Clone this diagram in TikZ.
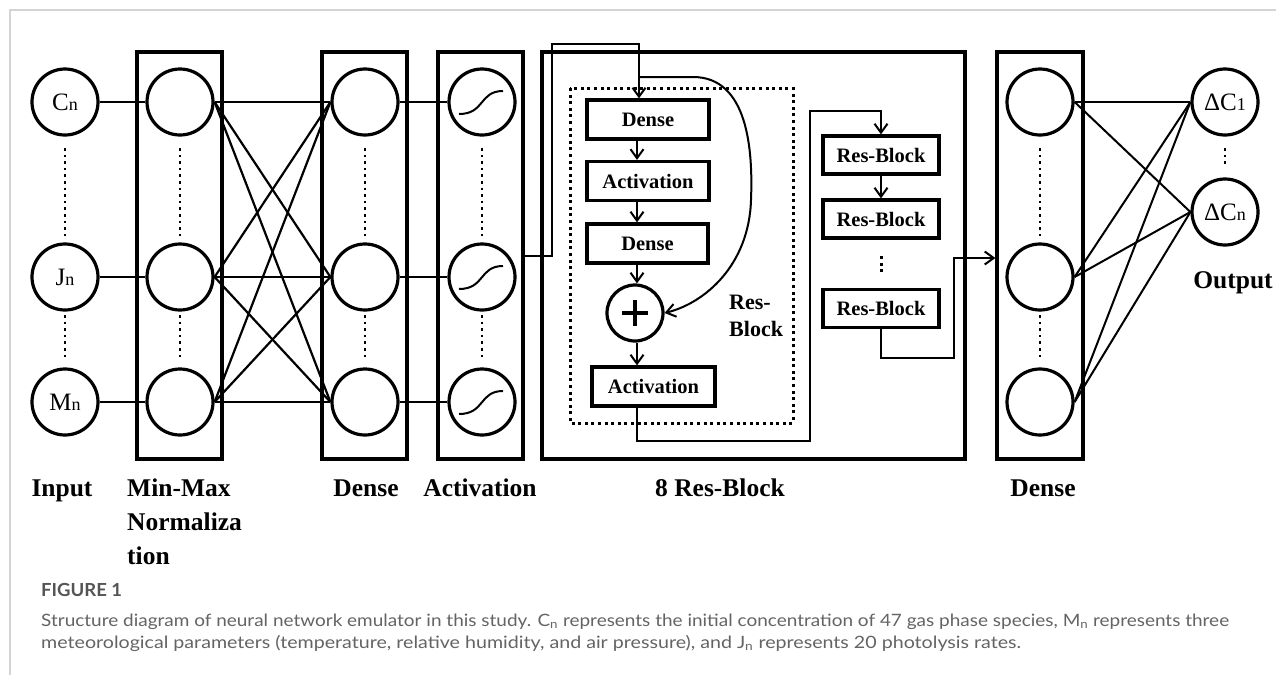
\documentclass[tikz,border=0pt]{standalone}
\usepackage{fontspec}
\setmainfont{Liberation Serif}
\newfontfamily\capfont{Lato}
\usetikzlibrary{arrows.meta}
\definecolor{capgray}{RGB}{100,100,100}
\definecolor{figgray}{RGB}{85,85,85}
\definecolor{framegray}{RGB}{212,212,212}
\newcommand{\nlab}[2]{{\fontsize{25}{25}\selectfont #1}{\fontsize{18}{18}\selectfont #2}}
\begin{document}
\begin{tikzpicture}[x=1pt,y=-1pt,
  neuron/.style={circle,draw,line width=3.2pt,minimum size=66pt,inner sep=0pt},
  colbox/.style={draw,line width=3.2pt,minimum width=85pt,minimum height=407pt,inner sep=0pt},
  conn/.style={line width=2.2pt},
  dotline/.style={line width=2.6pt,dash pattern=on 2.6pt off 4pt},
  ibox/.style={draw,line width=3.2pt,minimum height=39pt,inner sep=0pt,font=\fontsize{20.5}{24}\selectfont\bfseries},
  arr/.style={line width=2pt,-{Straight Barb[length=9pt,width=13pt]}},
  lab/.style={font=\fontsize{25.5}{30}\selectfont\bfseries,inner sep=0pt},
  sig/.style={line width=2pt},
]
\useasboundingbox (0,0) rectangle (1276,675);
\fill[white] (0,0) rectangle (1276,675);
\draw[framegray,line width=1.3pt] (10,675) -- (10,10) -- (1276,10);

% column boxes
\node[colbox] (mmbox) at (179.5,255.5) {};
\node[colbox] (dbox) at (364.5,255.5) {};
\node[colbox] (abox) at (480.5,255.5) {};
\node[draw,line width=3.2pt,minimum width=423pt,minimum height=407pt,inner sep=0pt] (rbox) at (753.5,255.5) {};
\node[colbox,minimum width=86pt] (rdbox) at (1040,255.5) {};

% input neurons
\node[neuron] (in1) at (65,102) {\nlab{C}{n}};
\node[neuron] (in2) at (65,277) {\nlab{J}{n}};
\node[neuron] (in3) at (65,402) {\nlab{M}{n}};
% min-max
\node[neuron] (mm1) at (180,102) {};
\node[neuron] (mm2) at (180,277) {};
\node[neuron] (mm3) at (180,402) {};
% dense
\node[neuron] (d1) at (365,102) {};
\node[neuron] (d2) at (365,277) {};
\node[neuron] (d3) at (365,402) {};
% activation
\node[neuron] (a1) at (482,102) {};
\node[neuron] (a2) at (482,277) {};
\node[neuron] (a3) at (482,402) {};
% right dense
\node[neuron] (rd1) at (1040,102) {};
\node[neuron] (rd2) at (1040,277) {};
\node[neuron] (rd3) at (1040,402) {};
% outputs
\node[neuron] (o1) at (1225,102) {\nlab{ΔC}{1}};
\node[neuron] (o2) at (1225,212) {\nlab{ΔC}{n}};

% sigmoids
\foreach \n in {a1,a2,a3}{
  \draw[sig] ([xshift=-23pt,yshift=-12pt]\n.center) .. controls ([xshift=3pt,yshift=-12pt]\n.center) and ([xshift=-3pt,yshift=11pt]\n.center) .. ([xshift=21pt,yshift=11pt]\n.center);
}

% dotted vertical lines
\foreach \x in {65,180,365,482,1040}{
  \draw[dotline] (\x,148) -- (\x,238);
  \draw[dotline] (\x,315) -- (\x,358);
}
\draw[dotline] (1225,148) -- (1225,166);

% connections
\foreach \i in {1,2,3}{
  \draw[conn] (in\i.east) -- (mm\i.west);
  \draw[conn] (d\i.east) -- (a\i.west);
  \foreach \j in {1,2,3}{
    \draw[conn] (mm\i.east) -- (d\j.west);
  }
  \foreach \j in {1,2}{
    \draw[conn,line width=2pt] (rd\i.east) -- (o\j.west);
  }
}

% res-block internals
\draw[line width=3pt,dash pattern=on 3pt off 3.6pt] (570,88) rectangle (793,423);
\node[ibox,minimum width=122pt] (rden1) at (648,119.5) {Dense};
\node[ibox,minimum width=122pt] (ract1) at (648,181) {Activation};
\node[ibox,minimum width=121pt] (rden2) at (647.5,243.5) {Dense};
\node[circle,draw,line width=3.2pt,minimum size=56pt,inner sep=0pt] (plus) at (635,313) {};
\draw[line width=4pt] ([xshift=-13pt]plus.center) -- ([xshift=13pt]plus.center);
\draw[line width=4pt] ([yshift=-13pt]plus.center) -- ([yshift=13pt]plus.center);
\node[ibox,minimum width=123pt] (ract2) at (653.5,386.5) {Activation};
\node[anchor=base west,inner sep=0pt,font=\fontsize{22}{27}\selectfont\bfseries,align=left] (rblab) at (729,336) {Res-\\Block};

\coordinate (ax) at (637,0);
\draw[arr] (rden1.south -| ax) -- (ract1.north -| ax);
\draw[arr] (ract1.south -| ax) -- (rden2.north -| ax);
\draw[arr] (rden2.south -| ax) -- (plus.north -| ax);
\draw[arr] (plus.south -| ax) -- (ract2.north -| ax);

% entry line
\coordinate (c1) at (552,44);
\coordinate (c2) at (639,44);
\draw[arr] (abox.east) -- (abox.east -| c1) -- (c1) -- (c2) -- (c2 |- rden1.north);
% skip connection
\coordinate (sk) at (639,77);
\draw[arr] (sk) -- (693,77) .. controls (748,77) and (753,150) .. (751,200) .. controls (749,265) and (705,303) .. (plus.east);

% stacked res-blocks
\node[ibox,minimum width=116pt,minimum height=38pt] (rb1) at (881,155) {Res-Block};
\node[ibox,minimum width=116pt,minimum height=38pt] (rb2) at (881,219) {Res-Block};
\node[ibox,minimum width=116pt,minimum height=38pt] (rb3) at (881,308.5) {Res-Block};
\draw[arr] (rb1.south) -- (rb2.north);
\draw[line width=3pt,dash pattern=on 3pt off 3.5pt] (881,256) -- (881,275);
\coordinate (l1) at (810,441);
\coordinate (l2) at (810,111);
\draw[arr] (ract2.south -| ax) |- (l1) -- (l2) -| (rb1.north);
\coordinate (e1) at (954,358);
\coordinate (e2) at (954,258);
\draw[arr] (rb3.south) |- (e1) -- (e2) -- (e2 -| rdbox.west);

% labels
\node[lab,anchor=base] (linput) at (62,496) {Input};
\node[lab,anchor=base west] (lmm1) at (127,496) {Min-Max};
\node[lab,anchor=base west] (lmm2) at (127,530) {Normaliza};
\node[lab,anchor=base west] (lmm3) at (127,564) {tion};
\node[lab,anchor=base] (ldense) at (366,496) {Dense};
\node[lab,anchor=base] (lact) at (480,496) {Activation};
\node[lab,anchor=base] (lres) at (720,496) {8 Res-Block};
\node[lab,anchor=base] (ldense2) at (1043,496) {Dense};
\node[lab,anchor=base] (lout) at (1233,288) {Output};

% caption
\node[anchor=base west,inner sep=0pt,text=figgray,font=\capfont\bfseries\fontsize{18}{20}\selectfont] (figl) at (41,596) {\resizebox{81pt}{\height}{FIGURE 1}};
\node[anchor=base west,inner sep=0pt,text=capgray,font=\capfont\fontsize{17}{19}\selectfont] (cap1) at (41,626) {\resizebox{1188pt}{\height}{Structure diagram of neural network emulator in this study. C\textsubscript{n} represents the initial concentration of 47 gas phase species, M\textsubscript{n} represents three}};
\node[anchor=base west,inner sep=0pt,text=capgray,font=\capfont\fontsize{17}{19}\selectfont] (cap2) at (41,648) {\resizebox{980pt}{\height}{meteorological parameters (temperature, relative humidity, and air pressure), and J\textsubscript{n} represents 20 photolysis rates.}};
\end{tikzpicture}
\end{document}
